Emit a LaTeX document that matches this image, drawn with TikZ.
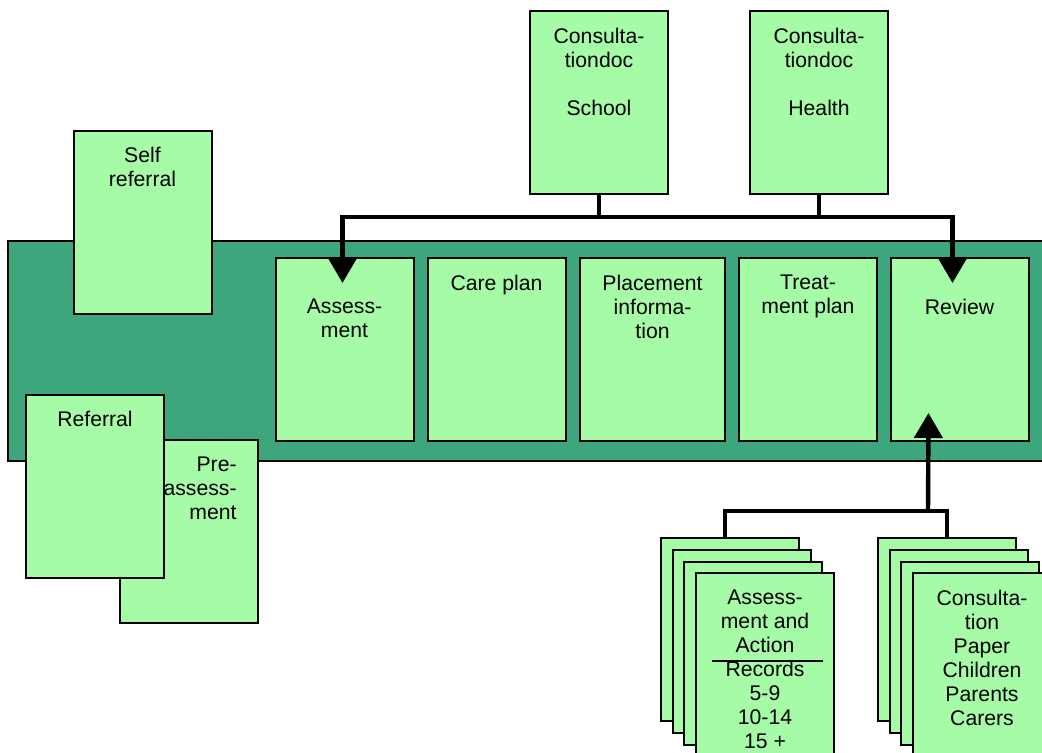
\documentclass[tikz,border=0pt]{standalone}
\usepackage{fontspec}
\setmainfont{Liberation Sans}
\usetikzlibrary{arrows.meta,positioning,calc}
\definecolor{leaf}{RGB}{166,251,166}
\definecolor{band}{RGB}{61,166,124}

\begin{document}
\begin{tikzpicture}[
  x=0.5pt,y=-0.5pt,
  font=\fontsize{10.6}{12}\selectfont,
  doc/.style={draw=black,line width=1pt,fill=leaf,minimum width=69pt,minimum height=91.5pt,inner sep=0pt,outer sep=0pt},
  lbl/.style={align=center,inner sep=0pt},
  conn/.style={line width=2.2pt,black},
  arr/.style={-{Triangle[width=14pt,length=12.5pt]}}
]
\useasboundingbox[fill=white] (0,0) rectangle (1042,753);
% ---------- band with the stages
\draw[line width=1pt,fill=band] (8,241) rectangle (1080,461);
\foreach \n/\x/\w/\s/\t in {assess/344.5/69pt/20.5pt/{Assess-\\ment}, care/496.5/69pt/8.5pt/{Care plan},
  place/652.5/72.5pt/8.5pt/{Placement\\informa-\\tion}, treat/808/69pt/8.5pt/{Treat-\\ment plan},
  review/959.5/69pt/20.5pt/Review}{
  \node[doc,minimum width=\w] (\n) at (\x,349.5) {};
  \node[lbl,below=\s of \n.north] (\n-t) {\t};
}

% ---------- referrals on the left
\node[doc] (self) at (142.5,222.5) {};
\node[lbl,below=8pt of self.north] (self-t) {Self\\referral};
\node[doc] (preass) at (189,531.5) {};
\node[lbl,align=right,below left=8.5pt and 10.5pt of preass.north east] (preass-t) {Pre-\\assess-\\ment};
\node[doc] (referral) at (95,486) {};
\node[lbl,below=8pt of referral.north] (referral-t) {Referral};

% ---------- consultation documents on top
\foreach \n/\x/\t in {school/599/School, health/819/Health}{
  \node[doc] (\n) at (\x,102.5) {};
  \node[lbl,below=8.5pt of \n.north] (\n-t) {Consulta-\\tiondoc\\[12pt]\t};
}
\draw[conn] (school.south) -- ++(0,23) coordinate (jt);
\draw[conn] (health.south) -- (health.south |- jt);
\draw[conn,{Triangle[width=14pt,length=12.5pt]}-{Triangle[width=14pt,length=12.5pt]}]
  ($(assess.north)+(-2,25)$) |- (jt) -| ($(review.north)+(-7,25)$);

% ---------- record stacks below
\foreach \i/\dx/\dy in {1/0/0, 2/11.5/12, 3/23/24, 4/35/35}{
  \node[doc] (rec\i) at (730+\dx,629.5+\dy) {};
  \node[doc] (paper\i) at (947+\dx,629.5+\dy) {};
}
\node[lbl,below=8.5pt of rec4.north] (rec-t) {Assess-\\ment and\\Action\\Records\\5-9\\10-14\\15 +};
\draw[line width=1pt] ($(rec4.north west)+(16,88)$) -- ($(rec4.north east)+(-11,88)$);
\node[lbl,below=8.5pt of paper4.north] (paper-t) {Consulta-\\tion\\Paper\\Children\\Parents\\Carers};
\coordinate (jb) at (928,511);
\draw[conn] ($(rec1.north)+(-5,0)$) |- (jb) -| (paper1.north);
\draw[conn,arr] (jb) -- ($(review.south)+(-31,-28)$);
\end{tikzpicture}
\end{document}
